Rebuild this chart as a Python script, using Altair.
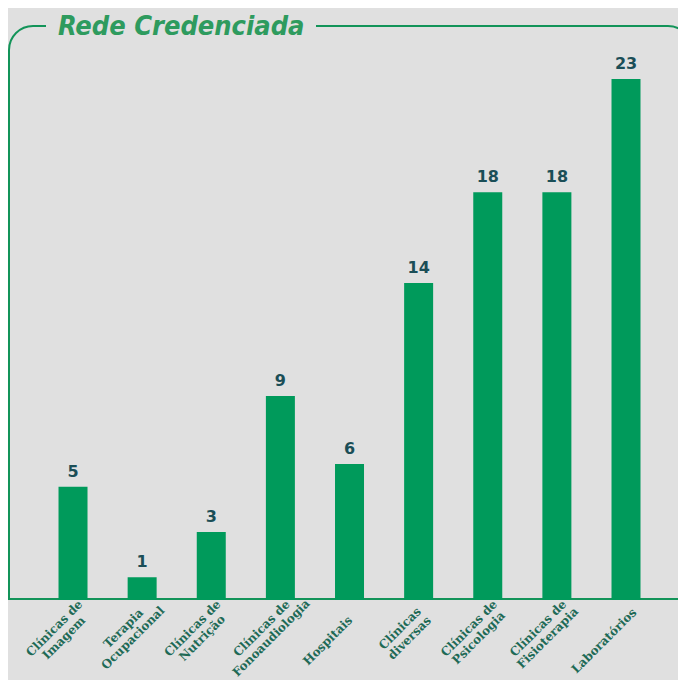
import altair as alt
import pandas as pd

categories = [
    "Clínicas de\nImagem",
    "Terapia\nOcupacional",
    "Clínicas de\nNutrição",
    "Clínicas de\nFonoaudiologia",
    "Hospitais",
    "Clínicas\ndiversas",
    "Clínicas de\nPsicologia",
    "Clínicas de\nFisioterapia",
    "Laboratórios",
]
values = [5, 1, 3, 9, 6, 14, 18, 18, 23]
title_text = "Rede Credenciada"

BG = "#e0e0e0"
GREEN = "#009a5b"
FRAME = "#139459"
TITLE_C = "#2e9b5e"
VAL_C = "#1b4e57"
LAB_C = "#1e6a56"

W, H = 670, 672

df = pd.DataFrame({"cat": categories, "val": values})

xscale = alt.Scale(paddingInner=0.5805, paddingOuter=0.6366, align=0.574)
yscale = alt.Scale(domain=[-3.538, 26.14], nice=False, zero=False)

X = alt.X("cat:N", sort=None, scale=xscale, axis=None)
Y = alt.Y("val:Q", scale=yscale, axis=None)

one = alt.Data(values=[{"a": 1}])

frame = alt.Chart(one).mark_rect(
    fill="transparent", stroke=FRAME, strokeWidth=2,
    cornerRadiusTopLeft=24, cornerRadiusTopRight=24,
).encode(x=alt.value(1), x2=alt.value(684), y=alt.value(18), y2=alt.value(591))

mask = alt.Chart(one).mark_rect(fill=BG).encode(
    x=alt.value(38), x2=alt.value(308), y=alt.value(6), y2=alt.value(30)
)

title = alt.Chart(one).mark_text(
    text=title_text, align="left", baseline="alphabetic",
    font="DejaVu Sans Condensed, DejaVu Sans, sans-serif",
    fontSize=27, fontWeight="bold", fontStyle="italic", color=TITLE_C,
).encode(x=alt.value(50), y=alt.value(27))

bars = alt.Chart(df).mark_bar(color=GREEN).encode(x=X, y=Y, y2=alt.datum(0))

vals = alt.Chart(df).mark_text(
    baseline="alphabetic", dy=-10, font="DejaVu Sans", fontSize=16,
    fontWeight="bold", color=VAL_C,
).encode(x=X, y=Y, text="val:Q")

label_style = dict(
    align="center", baseline="middle", angle=315, lineBreak="\n",
    lineHeight=13.5, font="DejaVu Serif", fontSize=12, fontWeight="bold",
    color=LAB_C,
)

labels_multi = alt.Chart(df).transform_filter(
    "indexof(datum.cat, '\\n') >= 0"
).mark_text(dx=-34, dy=7.5, **label_style).encode(
    x=X, y=alt.value(591), text="cat:N"
)

labels_single = alt.Chart(df).transform_filter(
    "indexof(datum.cat, '\\n') < 0"
).mark_text(dx=-45, dy=14, **label_style).encode(
    x=X, y=alt.value(591), text="cat:N"
)

chart = alt.layer(frame, mask, bars, vals, labels_multi, labels_single, title).properties(
    width=W, height=H, background=BG, padding=0,
    autosize=alt.AutoSizeParams(type="none"),
).configure_view(stroke=None)

chart.save("out.html", embed_options={"renderer": "svg", "actions": False})
